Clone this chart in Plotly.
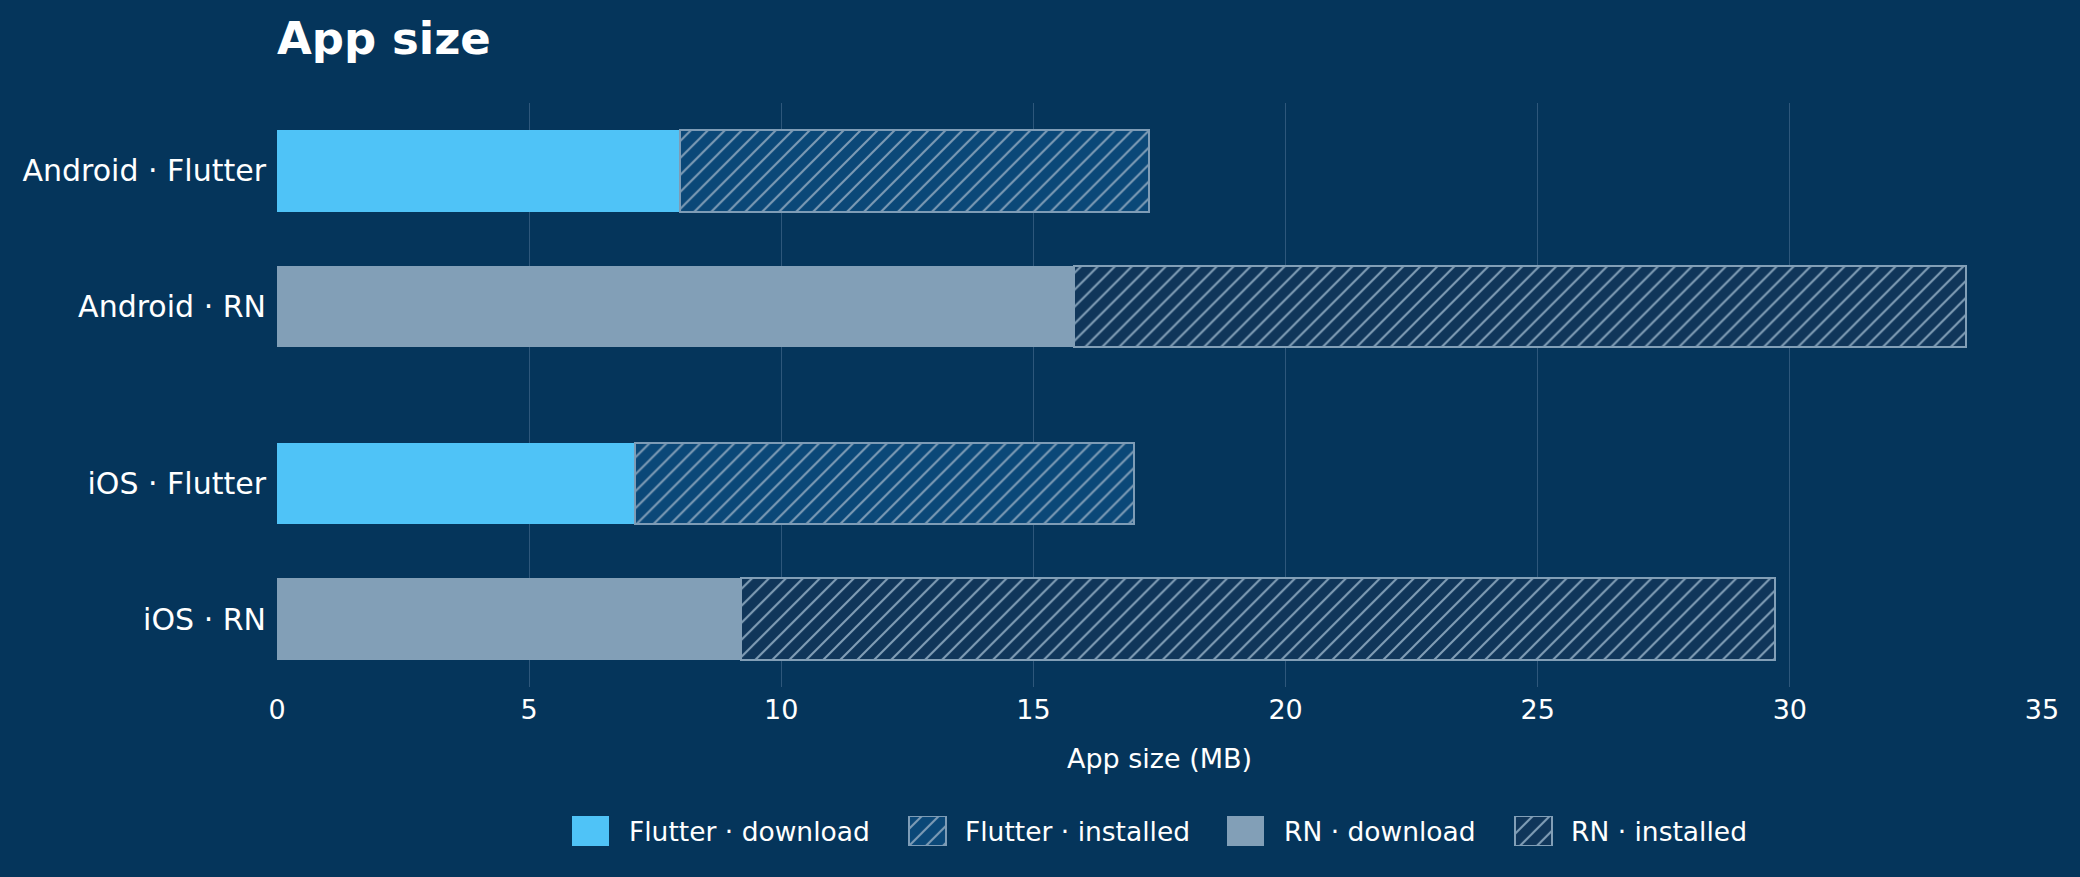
import plotly.graph_objects as go

# ---------------- data ----------------
platforms = ["Android · Flutter", "Android · RN", "iOS · Flutter", "iOS · RN"]
frameworks = ["Flutter", "RN", "Flutter", "RN"]
download_mb = [8.0, 15.8, 7.1, 9.2]
installed_mb = [17.3, 33.5, 17.0, 29.7]
x_ticks = [0, 5, 10, 15, 20, 25, 30, 35]
legend_labels = ["Flutter · download", "Flutter · installed", "RN · download", "RN · installed"]

# ---------------- layout / style constants ----------------
W, H = 2080, 877
ML, MR, MT, MB = 277, 38, 103, 0
PLOT_BOTTOM_PX = 687
row_pos = [0, 1, 2.3, 3.3]
BAR_W = 0.6

BG = "#05355B"
GRID = "#2E577B"
TXT = "#FFFFFF"
COL = {
    "Flutter": dict(dl="#4FC3F7", inst_bg="#0B4878", hatch="#7E9CB6"),
    "RN": dict(dl="#829FB7", inst_bg="#10365A", hatch="#829FB7"),
}
FONT = "DejaVu Sans"
HATCH_SIZE = 12
HATCH_SOLID = 0.17

plot_h = H - MT - MB
plot_w = W - ML - MR


def py(px_y):
    return (H - MB - px_y) / plot_h


def pxx(px_x):
    return (px_x - ML) / plot_w


def hatched_marker(c):
    return dict(
        color=c["inst_bg"],
        line=dict(width=2, color=c["hatch"]),
        pattern=dict(shape="/", bgcolor=c["inst_bg"], fgcolor=c["hatch"],
                     size=HATCH_SIZE, solidity=HATCH_SOLID, fillmode="replace"),
    )


fig = go.Figure()

for fw in ["Flutter", "RN"]:
    idx = [i for i, f in enumerate(frameworks) if f == fw]
    c = COL[fw]
    fig.add_trace(go.Bar(
        orientation="h",
        y=[row_pos[i] for i in idx],
        x=[download_mb[i] for i in idx],
        width=BAR_W,
        marker=dict(color=c["dl"], line=dict(width=0)),
        name=f"{fw} · download",
        showlegend=False,
        xaxis="x", yaxis="y",
    ))
    fig.add_trace(go.Bar(
        orientation="h",
        y=[row_pos[i] for i in idx],
        x=[installed_mb[i] - download_mb[i] for i in idx],
        base=[download_mb[i] for i in idx],
        width=BAR_W,
        marker=hatched_marker(c),
        name=f"{fw} · installed",
        showlegend=False,
        xaxis="x", yaxis="y",
    ))

# ---------------- custom legend (mini axis) ----------------
sw_centers = [590.5, 927, 1245.5, 1533]
sw_width = 37
text_starts = [627, 963, 1282, 1569]
leg_fw = ["Flutter", "Flutter", "RN", "RN"]
leg_hatched = [False, True, False, True]
for k in range(4):
    c = COL[leg_fw[k]]
    marker = hatched_marker(c) if leg_hatched[k] else dict(color=c["dl"], line=dict(width=0))
    fig.add_trace(go.Bar(
        x=[sw_centers[k]], y=[1], width=sw_width, marker=marker,
        showlegend=False, hoverinfo="skip", xaxis="x2", yaxis="y2",
    ))
    fig.add_annotation(
        x=pxx(text_starts[k]), y=py(831), xref="paper", yref="paper",
        text=legend_labels[k], showarrow=False, xanchor="left", yanchor="middle",
        font=dict(family=FONT, size=26.5, color=TXT),
    )

fig.update_layout(
    width=W, height=H,
    paper_bgcolor=BG, plot_bgcolor=BG,
    margin=dict(l=ML, r=MR, t=MT, b=MB, pad=0),
    barmode="overlay",
    bargap=0,
    showlegend=False,
    title=dict(
        text="<b>App size</b>", x=0, xref="paper", xanchor="left",
        y=1 - 38 / H, yref="container", yanchor="middle",
        font=dict(family=FONT, size=45, color=TXT),
    ),
    xaxis=dict(
        domain=[0, 1], range=[0, 35], tickvals=x_ticks,
        showgrid=True, gridcolor=GRID, gridwidth=1.3,
        zeroline=False, showline=False, ticks="",
        ticklabelstandoff=4,
        tickfont=dict(family=FONT, size=27, color=TXT),
        title=dict(text="App size (MB)", font=dict(family=FONT, size=27, color=TXT), standoff=25),
        anchor="y",
    ),
    yaxis=dict(
        domain=[py(PLOT_BOTTOM_PX), 1], range=[3.8, -0.5],
        tickvals=row_pos, ticktext=platforms,
        showgrid=False, zeroline=False, showline=False, ticks="",
        ticklabelstandoff=10,
        tickfont=dict(family=FONT, size=30, color=TXT),
        anchor="x",
    ),
    xaxis2=dict(domain=[0, 1], range=[ML, W - MR], visible=False, anchor="y2", fixedrange=True),
    yaxis2=dict(domain=[py(846), py(816)], range=[0, 1], visible=False, anchor="x2", fixedrange=True),
)

fig.write_html(
    "out.html",
    config={"displayModeBar": False},
    post_script="document.body.style.margin='0';document.body.style.overflow='hidden';",
)
